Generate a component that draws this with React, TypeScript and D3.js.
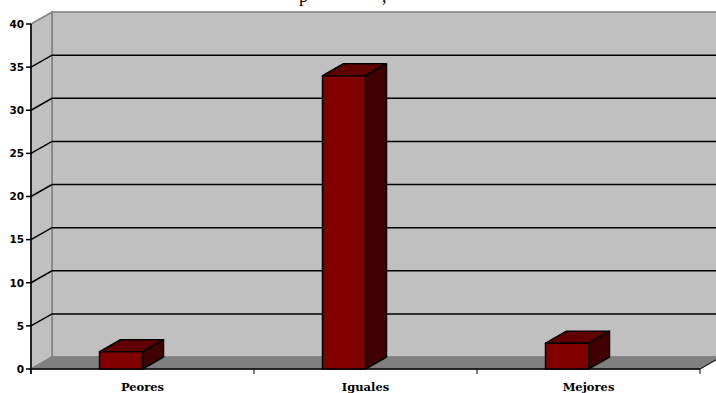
import React from "react";
import * as d3 from "d3";

const categories = ["Peores", "Iguales", "Mejores"];
const values = [2, 34, 3];
const yTicks = [0, 5, 10, 15, 20, 25, 30, 35, 40];

const WIDTH = 716;
const HEIGHT = 393;
const DEPTH_X = 21;
const DEPTH_Y = 12;
const LABEL_FONT = '"DejaVu Serif", serif';
const TICK_FONT = '"DejaVu Sans", sans-serif';

export default function App() {
  const x = d3.scaleBand<string>().domain(categories).range([31, 700]);
  const y = d3.scaleLinear().domain([0, 40]).range([369, 24]);
  const barWidth = 43;
  const x0 = 31;
  const x1 = 700;
  const base = y(0);
  const top = y(40);

  return (
    <svg
      width={WIDTH}
      height={HEIGHT}
      style={{ position: "absolute", left: 0, top: 0, background: "#fff" }}
    >
      {/* Title line, cut off by the top edge */}
      <text x={299} y={1.5} fontFamily='"Liberation Serif", serif' fontSize={18} fill="#000">p</text>
      <text x={382} y={1.5} fontFamily='"Liberation Serif", serif' fontSize={18} fill="#000">,</text>

      {/* Back wall, side wall and floor */}
      <polygon
        points={`${x0 + DEPTH_X},${top - DEPTH_Y} ${WIDTH + 2},${top - DEPTH_Y} ${WIDTH + 2},${base - DEPTH_Y} ${x0 + DEPTH_X},${base - DEPTH_Y}`}
        fill="#c0c0c0"
        stroke="#808080"
        strokeWidth={1.5}
      />
      <polygon
        points={`${x0},${top} ${x0 + DEPTH_X},${top - DEPTH_Y} ${x0 + DEPTH_X},${base - DEPTH_Y} ${x0},${base}`}
        fill="#c0c0c0"
        stroke="#808080"
        strokeWidth={1.5}
      />
      <polygon
        points={`${x0},${base} ${x0 + DEPTH_X},${base - DEPTH_Y} ${x1 + DEPTH_X},${base - DEPTH_Y} ${x1},${base}`}
        fill="#808080"
        stroke="#808080"
      />

      {/* Gridlines run along the side wall and across the back wall */}
      {yTicks.slice(1, -1).map((t) => (
        <polyline
          key={t}
          points={`${x0},${y(t)} ${x0 + DEPTH_X},${y(t) - DEPTH_Y} ${WIDTH},${y(t) - DEPTH_Y}`}
          fill="none"
          stroke="#000"
          strokeWidth={1.5}
        />
      ))}

      {/* Axes and tick marks */}
      <line x1={x0} x2={x0} y1={top} y2={base + 5} stroke="#000" strokeWidth={1.5} />
      <line x1={x0} x2={x1} y1={base} y2={base} stroke="#000" strokeWidth={1.5} />
      <line x1={x1} x2={x1 + DEPTH_X} y1={base} y2={base - DEPTH_Y} stroke="#000" strokeWidth={1} />
      {yTicks.map((t) => (
        <g key={t}>
          <line x1={x0 - 5} x2={x0} y1={y(t)} y2={y(t)} stroke="#000" strokeWidth={1.5} />
          <text
            x={x0 - 7}
            y={y(t)}
            dy="0.36em"
            textAnchor="end"
            fontFamily={TICK_FONT}
            fontWeight={700}
            fontSize={10.5}
            fill="#000"
          >
            {t}
          </text>
        </g>
      ))}
      {[...categories.map((c) => x(c)!), x1].map((px, i) => (
        <line key={i} x1={px} x2={px} y1={base} y2={base + 5} stroke="#000" strokeWidth={1} />
      ))}

      {/* 3D columns: the front face ends at the centre of each category band */}
      {categories.map((c, i) => {
        const right = x(c)! + x.bandwidth() / 2;
        const left = right - barWidth;
        const vTop = y(values[i]);
        return (
          <g key={c} stroke="#000" strokeWidth={1.5} strokeLinejoin="round">
            <polygon
              points={`${left},${vTop} ${left + DEPTH_X},${vTop - DEPTH_Y} ${right + DEPTH_X},${vTop - DEPTH_Y} ${right},${vTop}`}
              fill="#600000"
            />
            <polygon
              points={`${right},${vTop} ${right + DEPTH_X},${vTop - DEPTH_Y} ${right + DEPTH_X},${base - DEPTH_Y} ${right},${base}`}
              fill="#400000"
            />
            <rect x={left} y={vTop} width={barWidth} height={base - vTop} fill="#800000" />
          </g>
        );
      })}

      {/* Category labels */}
      {categories.map((c) => (
        <text
          key={c}
          x={x(c)! + x.bandwidth() / 2}
          y={391}
          textAnchor="middle"
          fontFamily={LABEL_FONT}
          fontWeight={700}
          fontSize={11.5}
          fill="#000"
        >
          {c}
        </text>
      ))}
    </svg>
  );
}
